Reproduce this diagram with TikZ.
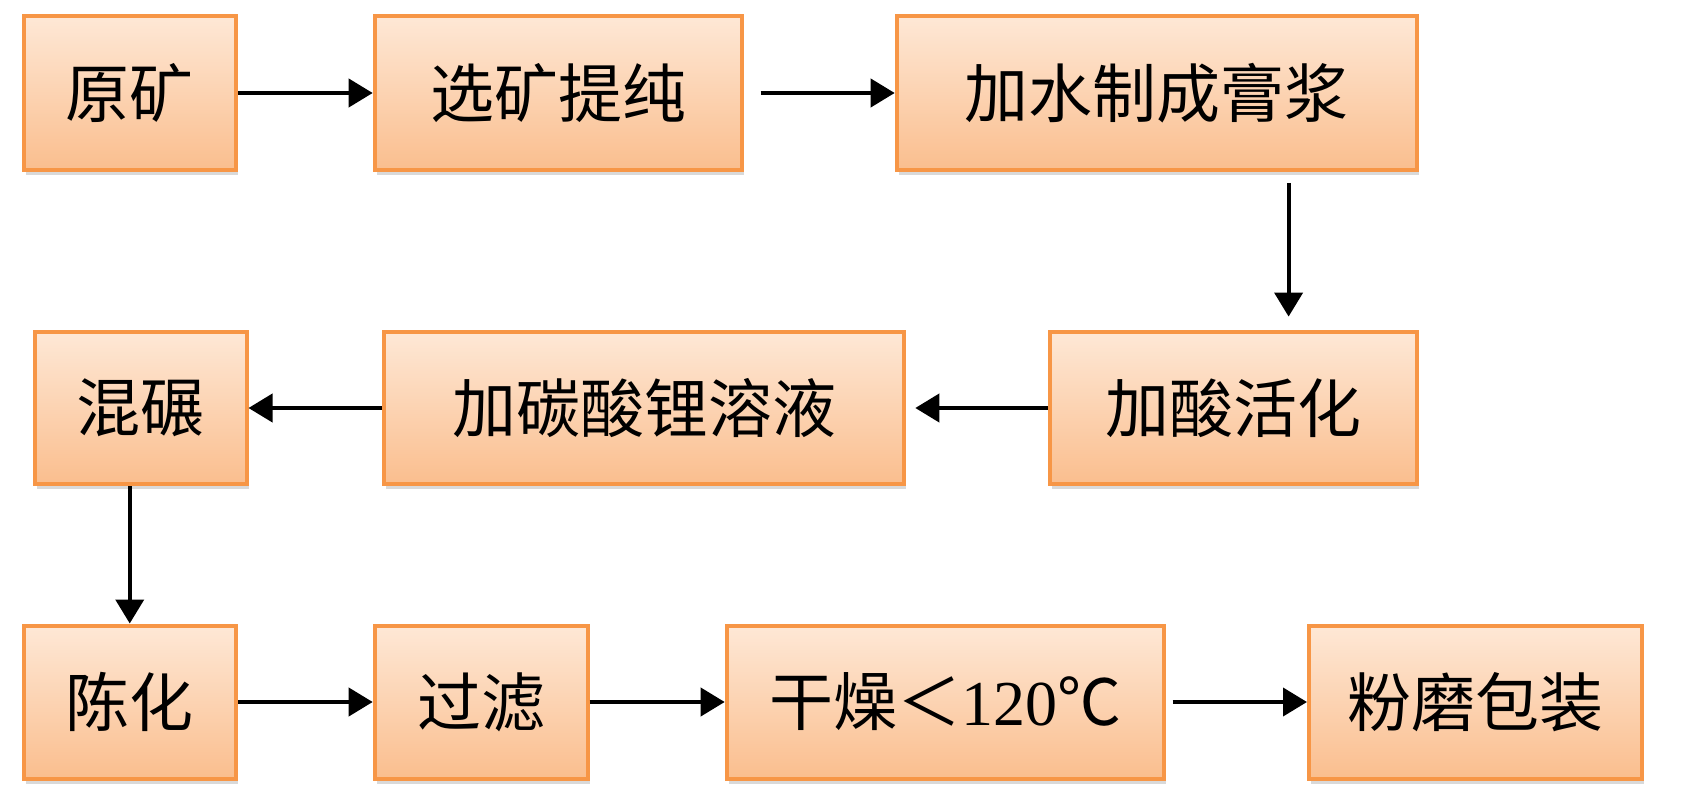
\documentclass[tikz,border=0pt]{standalone}
\usepackage{fontspec}
\setmainfont{Liberation Serif}
\newfontfamily\cjk{Noto Sans CJK SC}
\usetikzlibrary{arrows.meta,shadows,calc}
\definecolor{boxline}{RGB}{247,150,70}
\definecolor{boxtop}{RGB}{254,232,214}
\definecolor{boxbottom}{RGB}{250,190,142}
\tikzset{
  procbox/.style={draw=boxline, line width=2pt, top color=boxtop, bottom color=boxbottom,
    inner sep=0pt, font=\fontsize{32}{38}\selectfont\cjk,
    drop shadow={shadow xshift=1pt, shadow yshift=-2.5pt, opacity=0.25, fill=black!60}},
  flow/.style={line width=2pt, -{Triangle[length=12pt,width=14pt]}}
}
\begin{document}
\begin{tikzpicture}[x=0.5pt,y=-0.5pt]
                    \useasboundingbox (0,0) rectangle (1688,797);
                    
                    % Drawing row 1
                    \node [procbox, minimum width=106pt, minimum height=77pt] (yuankuang) at (129.75,93) {原矿};%
                    \node [procbox, minimum width=183.5pt, minimum height=77pt] (xuankuang) at (558.2,93) {选矿提纯};%
                    \node [procbox, minimum width=260pt, minimum height=77pt] (gaojiang) at (1156.7,93) {加水制成膏浆};%
                    
                    % Drawing row 2
                    \node [procbox, minimum width=106pt, minimum height=76.4pt] (hunnian) at (140.5,408) {混碾};%
                    \node [procbox, minimum width=260pt, minimum height=76.4pt] (tansuanli) at (644.3,408) {加碳酸锂溶液};%
                    \node [procbox, minimum width=183.5pt, minimum height=76.4pt] (suanhua) at (1233.2,408) {加酸活化};%
                    
                    % Drawing row 3
                    \node [procbox, minimum width=106pt, minimum height=76.5pt] (chenhua) at (129.75,702) {陈化};%
                    \node [procbox, minimum width=106.5pt, minimum height=76.5pt] (guolv) at (481.2,702) {过滤};%
                    \node [procbox, minimum width=218.5pt, minimum height=76.5pt] (ganzao) at (945.2,702) {干燥＜\rmfamily 120\cjk ℃};%
                    \node [procbox, minimum width=166.3pt, minimum height=76.5pt] (fenmo) at (1475.3,702) {粉磨包装};%
                    
                    % Drawing connectors
                    \coordinate (downcol) at (1288.6,0);%
                    \draw [flow] (yuankuang) -- (xuankuang);%
                    \draw [flow, shorten <=8.5pt] (xuankuang) -- (gaojiang);%
                    \draw [flow, shorten <=5.5pt, shorten >=6.5pt] (gaojiang.south -| downcol) -- (suanhua.north -| downcol);%
                    \draw [flow, shorten >=4.5pt] (suanhua) -- (tansuanli);%
                    \draw [flow] (tansuanli) -- (hunnian);%
                    \draw [flow] (hunnian.south -| chenhua) -- (chenhua.north);%
                    \draw [flow] (chenhua) -- (guolv);%
                    \draw [flow] (guolv) -- (ganzao);%
                    \draw [flow, shorten <=3.5pt] (ganzao) -- (fenmo);%
                \end{tikzpicture}
\end{document}
